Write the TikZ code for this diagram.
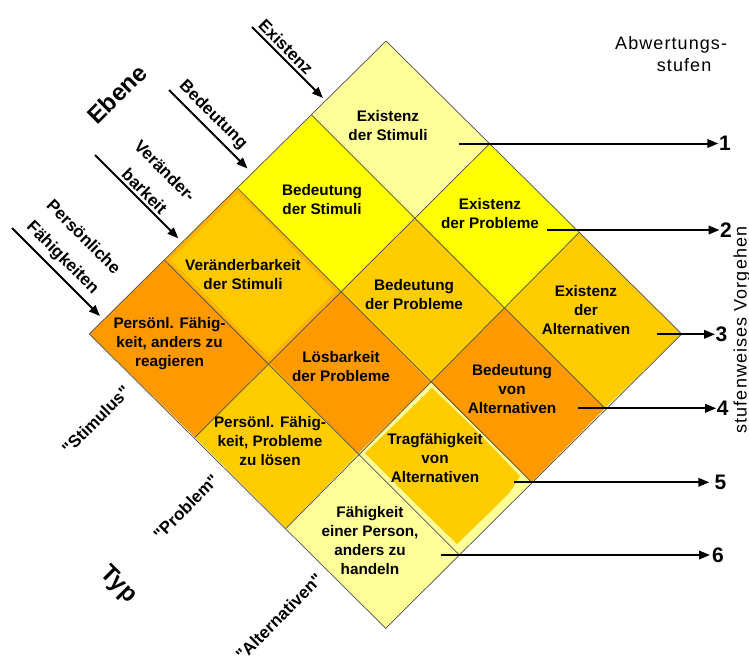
\documentclass[tikz,border=0pt]{standalone}
\usepackage{fontspec}
\setmainfont{Liberation Sans}[Ligatures=TeXOff]
\newfontfamily\spacedfont[LetterSpace=6,Ligatures=TeXOff]{Liberation Sans}
\usetikzlibrary{arrows.meta}
\definecolor{lyel}{HTML}{FFFF99}
\definecolor{yel}{HTML}{FFFF00}
\definecolor{gold}{HTML}{FFCC00}
\definecolor{orng}{HTML}{FF9900}
\definecolor{rimor}{HTML}{FFB400}
\begin{document}
\begin{tikzpicture}[x=1pt,y=-1pt,
  cellbox/.style={draw=black!70, line width=0.7pt, line join=miter},
  celltext/.style={font=\bfseries\fontsize{15.3}{19}\selectfont, align=center, inner sep=0pt},
  lab/.style={font=\bfseries\fontsize{17}{29}\selectfont, align=center, inner sep=0pt},
  big/.style={font=\bfseries\fontsize{24}{28}\selectfont, inner sep=0pt},
  num/.style={font=\bfseries\fontsize{21}{24}\selectfont, inner ysep=0pt, inner xsep=0.5pt, anchor=west},
  arr/.style={line width=2pt, -{Triangle[length=11pt,width=8.5pt]}},
  note/.style={font=\spacedfont\fontsize{18}{22.4}\selectfont, inner sep=0pt}]
\useasboundingbox (0,0) rectangle (749,664);

% grid vertices
\coordinate (v00) at (386,41);
\coordinate (v01) at (489.3,144);
\coordinate (v02) at (579.3,232.3);
\coordinate (v03) at (681.7,334);
\coordinate (v10) at (311.7,115);
\coordinate (v11) at (415.3,217.5);
\coordinate (v12) at (504.3,308.3);
\coordinate (v13) at (605,408.3);
\coordinate (v20) at (237.3,187.8);
\coordinate (v21) at (340.5,291.5);
\coordinate (v22) at (430.7,382.7);
\coordinate (v23) at (531.7,482.3);
\coordinate (v30) at (164.5,260);
\coordinate (v31) at (269,363);
\coordinate (v32) at (358.3,453.8);
\coordinate (v33) at (459.3,555);
\coordinate (v40) at (89.3,334);
\coordinate (v41) at (195,437.3);
\coordinate (v42) at (286,528.3);
\coordinate (v43) at (385.7,628.3);

% cell fills
\fill[lyel] (v00) -- (v01) -- (v11) -- (v10) -- cycle;
\fill[yel]  (v01) -- (v02) -- (v12) -- (v11) -- cycle;
\fill[gold] (v02) -- (v03) -- (v13) -- (v12) -- cycle;
\fill[yel]  (v10) -- (v11) -- (v21) -- (v20) -- cycle;
\fill[gold] (v11) -- (v12) -- (v22) -- (v21) -- cycle;
\fill[orng] (v12) -- (v13) -- (v23) -- (v22) -- cycle;
\fill[rimor] (v20) -- (v21) -- (v31) -- (v30) -- cycle;
\fill[gold!96!orange] (237.5,193) -- (262,216) -- (300,256) -- (335,291.5) -- (300,326)
   -- (269,357) -- (240,330) -- (205,294) -- (170,260) -- (205,226) -- cycle;
\fill[orng] (v21) -- (v22) -- (v32) -- (v31) -- cycle;
\fill[lyel] (v22) -- (v23) -- (v33) -- (v32) -- cycle;
\fill[gold] (432,388) -- (470,424) -- (520,476) -- (510,492) -- (490,512) -- (457,544)
   -- (420,508) -- (390,478) -- (365,453) -- (398,421) -- cycle;
\fill[orng] (v30) -- (v31) -- (v41) -- (v40) -- cycle;
\fill[gold] (v31) -- (v32) -- (v42) -- (v41) -- cycle;
\fill[lyel] (v32) -- (v33) -- (v43) -- (v42) -- cycle;

% grid lines
\draw[cellbox] (v00) -- (v03) -- (v43) -- (v40) -- cycle;
\draw[cellbox] (v10) -- (v13);
\draw[cellbox] (v20) -- (v23);
\draw[cellbox] (v30) -- (v33);
\draw[cellbox] (v01) -- (v41);
\draw[cellbox] (v02) -- (v42);

% cell texts
\node[celltext] (t00) at (388,126) {Existenz\\der Stimuli};
\node[celltext] (t01) at (490,214) {Existenz\\der Probleme};
\node[celltext] (t02) at (586,310) {Existenz\\der\\Alternativen};
\node[celltext] (t10) at (322,200) {Bedeutung\\der Stimuli};
\node[celltext] (t11) at (414,294.5) {Bedeutung\\der Probleme};
\node[celltext] (t12) at (512,389) {Bedeutung\\von\\Alternativen};
\node[celltext] (t20) at (243,275) {Veränderbarkeit\\der Stimuli};
\node[celltext] (t21) at (341,366.5) {Lösbarkeit\\der Probleme};
\node[celltext] (t22) at (435,458.5) {Tragfähigkeit\\von\\Alternativen};
\node[celltext] (t30) at (169.5,343.5) {Persönl. Fähig-\\keit, anders zu\\reagieren};
\node[celltext] (t31) at (270,441) {Persönl. Fähig-\\keit, Probleme\\zu lösen};
\node[celltext] (t32) at (370,541) {Fähigkeit\\einer Person,\\anders zu\\handeln};

% level arrows and labels
\coordinate (ea) at (252,27);   \coordinate (eb) at (323,98);
\coordinate (ba) at (169,90);   \coordinate (bb) at (247.5,168.5);
\coordinate (va) at (95,155);   \coordinate (vb) at (178.3,238.3);
\coordinate (pa) at (12,228);   \coordinate (pb) at (100,316);
\draw[arr] (ea) -- (eb);
\draw[arr] (ba) -- (bb);
\draw[arr] (va) -- (vb);
\draw[arr] (pa) -- (pb);
\node[lab, rotate=-45] (le) at (286,47) {Existenz};
\node[lab, rotate=-45] (lb) at (213,115) {Bedeutung};
\node[lab, rotate=-45] (lv) at (155,181) {Veränder-\\barkeit};
\node[lab, rotate=-45] (lp) at (72.5,248) {Persönliche\\Fähigkeiten};
\node[big, rotate=45] (ebene) at (117,94) {Ebene};

% type labels
\node[lab, rotate=45] (ts) at (96,420) {"Stimulus"};
\node[lab, rotate=45] (tp) at (186,507) {"Problem"};
\node[lab, rotate=45] (ta) at (279,617) {"Alternativen"};
\node[big, rotate=-45] (typ) at (118,585) {Typ};

% stage arrows
\coordinate (s1) at (459,143.5);
\coordinate (s2) at (546.7,230);
\coordinate (s3) at (657.3,334.3);
\coordinate (s4) at (578.3,408.3);
\coordinate (s5) at (514,482.3);
\coordinate (s6) at (440.7,555);
\node[num] (n1) at (718.3,143.5) {1};
\node[num] (n2) at (719.5,230) {2};
\node[num] (n3) at (715,334.3) {3};
\node[num] (n4) at (716.2,408.3) {4};
\node[num, inner xsep=5pt] (n5) at (709.3,482.3) {5};
\node[num, inner xsep=2pt] (n6) at (710,555) {6};
\draw[arr] (s1) -- (n1.west);
\draw[arr] (s2) -- (n2.west);
\draw[arr] (s3) -- (n3.west);
\draw[arr] (s4) -- (n4.west);
\draw[arr] (s5) -- (n5.west);
\draw[arr] (s6) -- (n6.west);

% right side texts
\node[note, align=left, anchor=north west] (abw) at (615,36.2) {Abwertungs-\\\hspace*{41.7pt}stufen};
\node[note, rotate=90] (stv) at (742,330) {stufenweises Vorgehen};
\end{tikzpicture}
\end{document}
